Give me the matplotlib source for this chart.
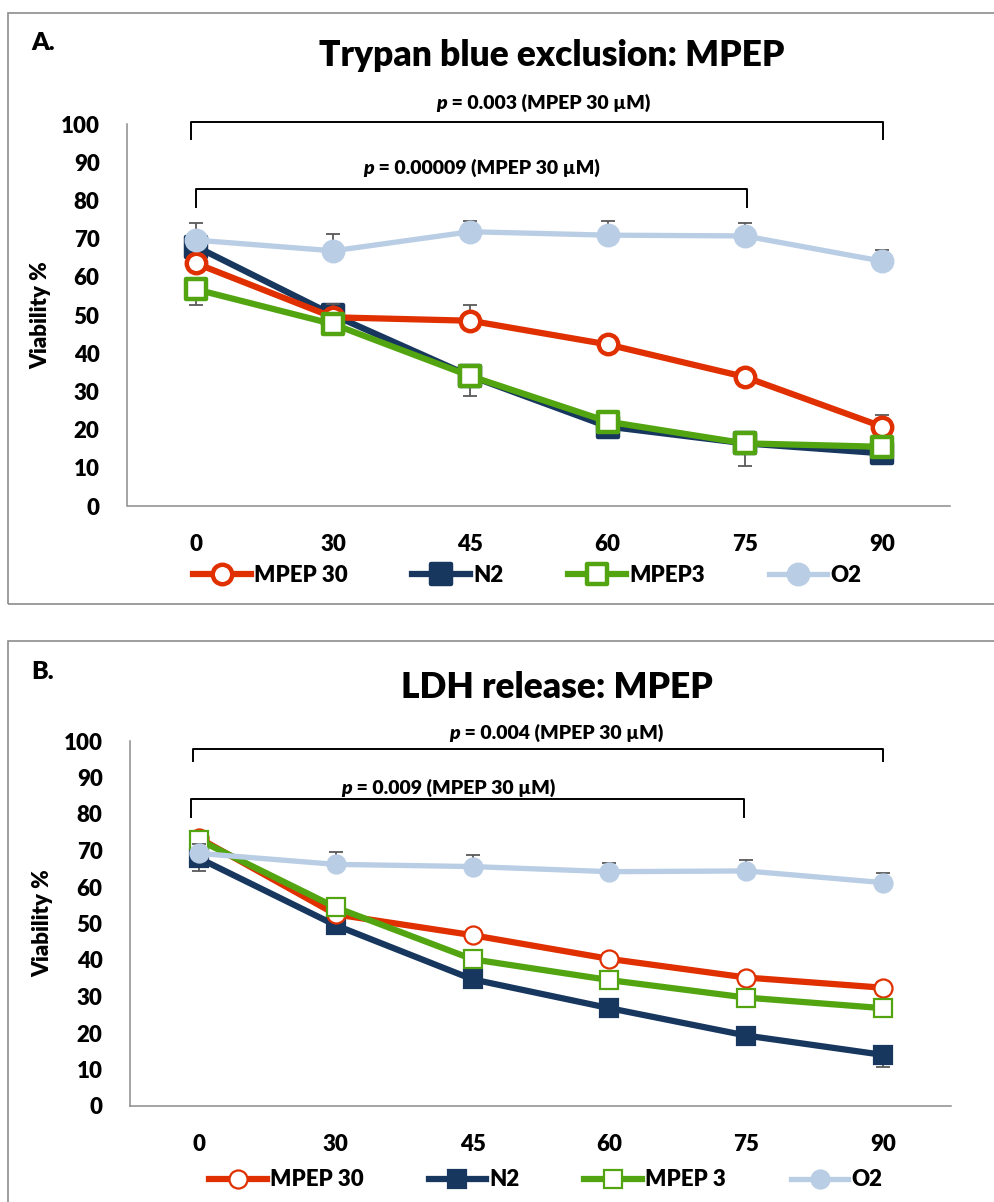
import matplotlib
matplotlib.use("Agg")
import matplotlib.pyplot as plt
from matplotlib import font_manager as fm
from matplotlib.markers import MarkerStyle
from matplotlib.patches import Rectangle
from matplotlib.offsetbox import TextArea, HPacker, AnnotationBbox
import numpy as np


def font(size, italic=False):
    return fm.FontProperties(family='Lato', weight=800,
                             style='italic' if italic else 'normal', size=size)


# ---- data ----
time_labels = ["0", "30", "45", "60", "75", "90"]
y_labels = [str(v) for v in range(0, 101, 10)]

# Panel A: trypan blue exclusion
a_mpep30 = [63.5, 49.4, 48.5, 42.3, 33.8, 20.8]
a_n2 = [67.9, 50.0, 34.0, 20.8, 16.4, 13.8]
a_mpep3 = [56.7, 47.6, 34.0, 22.1, 16.4, 15.5]
a_o2 = [69.6, 66.8, 71.8, 70.9, 70.7, 64.1]

a_mpep30_err_up = [1.5, 3.4, 4.1, 1.5, 1.5, 3.0]
a_mpep3_err_dn = [4.1, 1.5, 5.2, 1.5, 5.9, 1.5]
a_n2_err_up = [1.5, 1.5, 1.5, 1.5, 1.5, 1.5]
a_o2_err_up = [4.4, 4.4, 2.9, 3.8, 3.5, 2.9]

# Panel B: LDH release
b_mpep30 = [73.4, 52.5, 46.8, 40.3, 35.2, 32.4]
b_n2 = [67.9, 49.5, 34.7, 26.8, 19.3, 14.0]
b_mpep3 = [72.9, 54.4, 40.2, 34.5, 29.7, 26.8]
b_o2 = [69.2, 66.2, 65.6, 64.2, 64.4, 61.2]

b_mpep30_err_up = [1.5, 1.5, 1.5, 1.5, 1.5, 1.5]
b_mpep3_err_up = [1.5, 1.5, 1.5, 1.5, 1.5, 1.5]
b_n2_err_dn = [3.5, 1.5, 1.5, 1.5, 1.5, 3.2]
b_o2_err_up = [2.5, 3.3, 3.2, 2.5, 3.0, 2.7]

RED = '#E03000'
NAVY = '#17375E'
GREEN = '#52A510'
LBLUE = '#B9CDE5'
ERR = '#595959'

W, H = 995, 1202
fig = plt.figure(figsize=(W / 100, H / 100), dpi=100)

# panel frames
for (x0, y0, x1, y1) in [(8, 13, 1003, 604), (8, 641, 1003, 1215)]:
    fig.patches.append(Rectangle((x0 / W, 1 - y1 / H), (x1 - x0) / W, (y1 - y0) / H,
                                 transform=fig.transFigure, fill=False,
                                 edgecolor='#8c8c8c', lw=1.2, zorder=0))


def px_axes(left, right, bottom, top):
    return fig.add_axes([left / W, 1 - bottom / H, (right - left) / W, (bottom - top) / H])


def sq():
    return MarkerStyle('s', joinstyle='round')


def draw_panel(ax, series, ms, mew, lw):
    x = np.arange(len(time_labels))
    for vals, err, color, marker, face, label, z in series:
        lo, hi = err
        ax.errorbar(x, vals, yerr=[lo, hi], fmt='none', ecolor=ERR, elinewidth=1.3,
                    capsize=5, capthick=1.3, zorder=z - 0.5)
        ax.plot(x, vals, color=color, lw=lw if color != LBLUE else lw * 0.85,
                marker=marker, ms=ms, mew=mew, mfc=face, mec=color,
                label=label, zorder=z, solid_joinstyle='round')
    ax.set_xlim(-0.5, 5.5)
    ax.set_ylim(0, 100)
    ax.set_yticks(range(0, 101, 10))
    ax.set_xticks(x)
    ax.set_xticklabels(time_labels, fontproperties=font(16))
    ax.set_yticklabels(y_labels, fontproperties=font(16))
    for s in ['top', 'right']:
        ax.spines[s].set_visible(False)
    for s in ['left', 'bottom']:
        ax.spines[s].set_color('#8c8c8c')
        ax.spines[s].set_linewidth(1.1)
    ax.tick_params(axis='both', length=0, pad=20)
    ax.set_ylabel('Viability %', fontproperties=font(16))


def bracket(ax, x0, x1, ytop, ybot, value, tx, ty):
    ax.plot([x0, x0, x1, x1], [ybot, ytop, ytop, ybot], color='black', lw=1.4,
            clip_on=False, solid_joinstyle='round', zorder=5)
    pack = HPacker(children=[TextArea('p', textprops={'fontproperties': font(14, True)}),
                             TextArea(f' = {value} (MPEP 30 µM)',
                                      textprops={'fontproperties': font(14)})],
                   align='baseline', pad=0, sep=0)
    ab = AnnotationBbox(pack, (tx, ty), xycoords='data', frameon=False,
                        box_alignment=(0.5, 0.5), pad=0, annotation_clip=False)
    ax.add_artist(ab)


def add_legend(ax, order, center):
    h, l = ax.get_legend_handles_labels()
    idx = [l.index(o) for o in order]
    fig.legend([h[i] for i in idx], [l[i] for i in idx], loc='center',
               bbox_to_anchor=center, ncol=4, frameon=False,
               prop=font(16), handlelength=2.6,
               handletextpad=0.15, columnspacing=2.9)


# ---- Panel A ----
axA = px_axes(127.5, 950.5, 506, 124)
seriesA = [
    (a_n2, ([0] * 6, a_n2_err_up), NAVY, sq(), NAVY, 'N2', 3),
    (a_mpep30, ([0] * 6, a_mpep30_err_up), RED, 'o', 'white', 'MPEP 30', 4),
    (a_mpep3, (a_mpep3_err_dn, [0] * 6), GREEN, sq(), 'white', 'MPEP3', 5),
    (a_o2, ([0] * 6, a_o2_err_up), LBLUE, 'o', LBLUE, 'O2', 6),
]
draw_panel(axA, seriesA, ms=14, mew=3.2, lw=4.5)
axA.yaxis.set_label_coords(-0.093, 0.5)
bracket(axA, -0.04, 5.01, 100.6, 96.0, '0.003', 2.53, 105.5)
bracket(axA, 0.0, 4.02, 83.0, 78.4, '0.00009', 2.08, 88.5)
add_legend(axA, ['MPEP 30', 'N2', 'MPEP3', 'O2'], (527 / W, 1 - 575 / H))

fig.text(552 / W, 1 - 55 / H, 'Trypan blue exclusion: MPEP', ha='center', va='center',
         fontproperties=font(25.5))
fig.text(31 / W, 1 - 43 / H, 'A.', ha='left', va='center', fontproperties=font(18))

# ---- Panel B ----
axB = px_axes(130.5, 951.5, 1106, 741)
seriesB = [
    (b_n2, (b_n2_err_dn, [0] * 6), NAVY, 's', NAVY, 'N2', 3),
    (b_mpep30, ([0] * 6, b_mpep30_err_up), RED, 'o', 'white', 'MPEP 30', 4),
    (b_mpep3, ([0] * 6, b_mpep3_err_up), GREEN, 's', 'white', 'MPEP 3', 5),
    (b_o2, ([0] * 6, b_o2_err_up), LBLUE, 'o', LBLUE, 'O2', 6),
]
draw_panel(axB, seriesB, ms=13, mew=1.6, lw=4.5)
axB.yaxis.set_label_coords(-0.094, 0.5)
bracket(axB, -0.04, 5.0, 97.8, 94.6, '0.004', 2.61, 102.2)
bracket(axB, -0.06, 3.98, 84.2, 79.2, '0.009', 1.82, 87.1)
add_legend(axB, ['MPEP 30', 'N2', 'MPEP 3', 'O2'], (546 / W, 1 - 1180 / H))

fig.text(557 / W, 1 - 687 / H, 'LDH release: MPEP', ha='center', va='center',
         fontproperties=font(25.5))
fig.text(31 / W, 1 - 672 / H, 'B.', ha='left', va='center', fontproperties=font(18))

fig.savefig('out.png', dpi=100)
